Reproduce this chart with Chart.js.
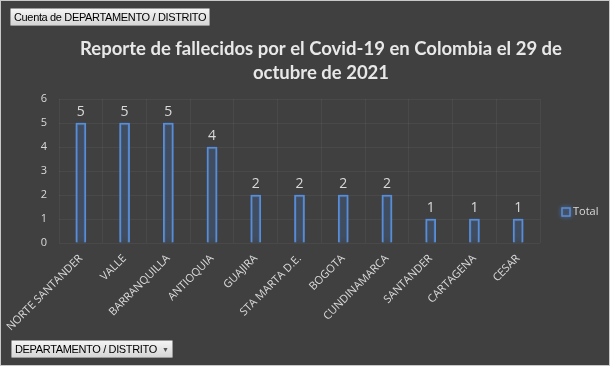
<!DOCTYPE html>
<html>
<head>
<meta charset="utf-8">
<script src="https://cdn.jsdelivr.net/npm/chart.js@4/dist/chart.umd.min.js"></script>
<style>
  html, body { margin: 0; padding: 0; background: #404040; }
  #wrap { position: relative; width: 608px; height: 364px; border: 1px solid #c8c8c8; background: #404040; overflow: hidden; }
  #chart { position: absolute; left: 0; top: 0; }
  .btn {
    position: absolute; height: 16px; line-height: 16px; padding: 0 3px;
    font-family: "Liberation Sans", "Noto Sans", sans-serif; font-size: 11px; color: #000;
    letter-spacing: -0.35px;
    background: linear-gradient(#f4f4f4, #d6d6d6); border: 1px solid #9a9a9a; border-radius: 1px;
    white-space: nowrap;
  }
  #btnTop { left: 9px; top: 7px; }
  #btnBottom { left: 10px; top: 339px; }
  .arrow { display: inline-block; font-size: 7px; color: #555; margin-left: 5px; vertical-align: 1px; }
</style>
</head>
<body>
<div id="wrap">
  <canvas id="chart" width="608" height="364"></canvas>
  <div class="btn" id="btnTop">Cuenta de DEPARTAMENTO / DISTRITO</div>
  <div class="btn" id="btnBottom">DEPARTAMENTO / DISTRITO<span class="arrow">&#9660;</span></div>
</div>
<script>
// data
var categories = ["NORTE SANTANDER", "VALLE", "BARRANQUILLA", "ANTIOQUIA", "GUAJIRA",
  "STA MARTA D.E.", "BOGOTA", "CUNDINAMARCA", "SANTANDER", "CARTAGENA", "CESAR"];
var totals = [5, 5, 5, 4, 2, 2, 2, 2, 1, 1, 1];
var yTicks = [0, 1, 2, 3, 4, 5, 6];
var titleLines = ["Reporte de fallecidos por el Covid-19 en Colombia el 29 de", "octubre de 2021"];

var textColor = "#d9d9d9";
var barBlue = "#5b8ed6";

// glow around the bars
var glowPlugin = {
  id: "glow",
  beforeDatasetsDraw: function(chart){
    var ctx = chart.ctx;
    ctx.save();
    ctx.shadowColor = "rgba(80,140,230,0.9)";
    ctx.shadowBlur = 7;
  },
  afterDatasetsDraw: function(chart){
    chart.ctx.restore();
  }
};

// value labels above each bar
var valueLabels = {
  id: "valueLabels",
  afterDatasetsDraw: function(chart){
    var ctx = chart.ctx;
    var meta = chart.getDatasetMeta(0);
    ctx.save();
    ctx.fillStyle = textColor;
    ctx.font = "14px 'Open Sans', sans-serif";
    ctx.textAlign = "center";
    ctx.textBaseline = "bottom";
    meta.data.forEach(function(bar, i){
      ctx.fillText(String(chart.data.datasets[0].data[i]), bar.x, bar.y - 4);
    });
    ctx.restore();
  }
};

// title centred like the excel one, and the legend off to the right
var titleAndLegend = {
  id: "titleAndLegend",
  afterDraw: function(chart){
    var ctx = chart.ctx;
    ctx.save();
    ctx.fillStyle = "#e8e8e8";
    ctx.font = "bold 18.5px Lato, sans-serif";
    ctx.textAlign = "center";
    ctx.textBaseline = "middle";
    titleLines.forEach(function(line, i){
      ctx.fillText(line, 320, 48 + i * 24);
    });

    var ds = chart.data.datasets[0];
    var lx = chart.chartArea.right + 22;
    var ly = 211;
    ctx.shadowColor = "rgba(80,140,230,0.9)";
    ctx.shadowBlur = 4;
    ctx.strokeStyle = ds.borderColor;
    ctx.lineWidth = 1.5;
    ctx.strokeRect(lx, ly - 4, 8, 8);
    ctx.shadowBlur = 0;
    ctx.fillStyle = textColor;
    ctx.font = "11px 'Open Sans', sans-serif";
    ctx.textAlign = "left";
    ctx.fillText(ds.label, lx + 11, ly);
    ctx.restore();
  }
};

var chart = new Chart(document.getElementById("chart"), {
  type: "bar",
  data: {
    labels: categories,
    datasets: [{
      label: "Total",
      data: totals,
      backgroundColor: "rgba(60,60,60,0.6)",
      borderColor: barBlue,
      borderWidth: 1.8,
      barThickness: 10
    }]
  },
  options: {
    responsive: false,
    animation: false,
    layout: { padding: { left: 0, right: 69, top: 98, bottom: 0 } },
    plugins: {
      title: { display: false },
      legend: { display: false },
      tooltip: { enabled: false }
    },
    scales: {
      x: {
        grid: { color: "rgba(255,255,255,0.05)", drawTicks: false },
        border: { display: false },
        ticks: {
          color: textColor,
          font: { family: "'Open Sans'", size: 11 },
          maxRotation: 45,
          minRotation: 45,
          padding: 9
        },
        afterFit: function(scale){
          scale.height = 122;
          // rotated labels may hang past the left edge, like in excel
          scale.paddingLeft = 0;
          scale.paddingRight = 0;
        }
      },
      y: {
        min: 0,
        max: 6,
        afterBuildTicks: function(scale){ scale.ticks = yTicks.map(function(v){ return { value: v }; }); },
        grid: { color: "rgba(255,255,255,0.05)", drawTicks: false },
        border: { display: false },
        ticks: {
          color: textColor,
          font: { family: "'Open Sans'", size: 11 },
          padding: 12
        },
        afterFit: function(scale){ scale.width = 58; }
      }
    }
  },
  plugins: [glowPlugin, valueLabels, titleAndLegend]
});
</script>
</body>
</html>
